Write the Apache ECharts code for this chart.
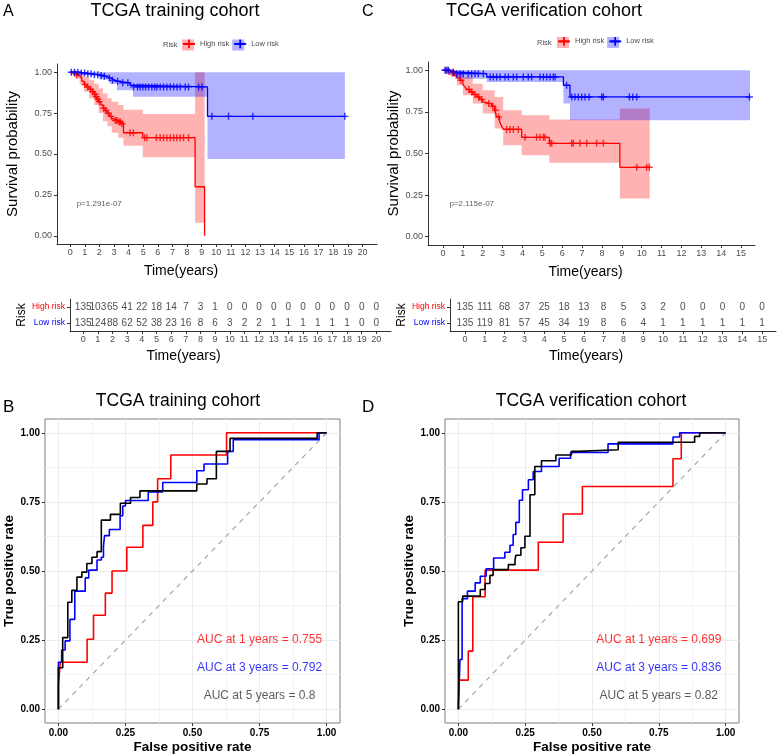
<!DOCTYPE html>
<html><head><meta charset="utf-8">
<script src="https://cdn.jsdelivr.net/npm/echarts@6/dist/echarts.min.js"></script>
<style>html,body{margin:0;padding:0;background:#fff}#c{width:778px;height:755px}</style>
</head><body><div id="c"></div>
<script>
// ===== Panel A: KM, TCGA training cohort =====
const kmA_high_t = [0,0.2,0.35,0.5,0.65,0.8,0.95,1.1,1.3,1.5,1.65,1.75,1.85,1.95,2.1,2.25,2.4,2.55,2.7,2.85,3.0,3.3,3.5,3.65,4.97,8.55,9.2];
const kmA_high_s = [1,0.993,0.985,0.975,0.963,0.945,0.925,0.91,0.895,0.88,0.865,0.85,0.835,0.82,0.80,0.78,0.765,0.75,0.73,0.715,0.705,0.695,0.685,0.63,0.60,0.30,0];
const kmA_high_censor = [0.3,0.45,1.0,1.2,1.4,1.55,1.7,1.8,1.9,2.0,2.3,2.45,2.6,2.8,3.1,3.2,3.35,3.45,3.55,4.1,4.33,5.1,5.25,5.9,6.16,6.39,6.62,6.85,7.08,7.3,7.53,7.76,8.1];
const kmA_low_t = [0,0.6,1.0,1.5,2.0,2.3,2.5,2.7,2.9,3.1,3.3,3.6,4.1,4.3,9.4,18.8];
const kmA_low_s = [1,0.995,0.99,0.985,0.98,0.975,0.965,0.958,0.95,0.945,0.94,0.935,0.92,0.91,0.73,0.73];
const kmA_low_censor = [0.08,0.3,0.53,0.76,0.99,1.21,1.43,1.66,1.89,2.12,2.34,2.68,2.9,3.25,3.6,3.95,4.34,4.61,4.79,4.98,5.16,5.37,5.59,5.78,5.94,6.16,6.39,6.62,6.85,7.08,7.31,7.53,7.88,8.1,8.79,9.02,9.7,10.84,12.5,18.8];
const bandA_high_t  = [0,0.35,0.65,0.95,1.3,1.65,1.95,2.25,2.55,2.85,3.3,3.65,4.97,8.55];
const bandA_high_lo = [0.99,0.96,0.93,0.88,0.84,0.80,0.75,0.70,0.67,0.63,0.60,0.55,0.48,0.08];
const bandA_high_hi = [1.0,1.0,0.995,0.97,0.95,0.93,0.90,0.87,0.84,0.82,0.80,0.77,0.745,1.0];
const bandA_high_end = 9.2;
const bandA_low_t  = [0,0.6,2.0,2.7,3.2,4.3,9.4];
const bandA_low_lo = [1.0,0.985,0.955,0.93,0.89,0.85,0.47];
const bandA_low_hi = [1,1,1,1,1,1,1];
const bandA_low_end = 18.8;
const riskA_times = [0,1,2,3,4,5,6,7,8,9,10,11,12,13,14,15,16,17,18,19,20];
const riskA_high = [135,103,65,41,22,18,14,7,3,1,0,0,0,0,0,0,0,0,0,0,0];
const riskA_low  = [135,124,88,62,52,38,23,16,8,6,3,2,2,1,1,1,1,1,1,0,0];
const pvalA = 'p=1.291e-07';

// ===== Panel C: KM, TCGA verification cohort =====
const kmC_high_t = [0,0.2,0.4,0.55,0.7,0.85,1.0,1.1,1.2,1.35,1.5,1.7,1.85,2.0,2.1,2.45,2.6,2.7,2.85,2.95,3.03,3.96,5.35,8.9,10.4];
const kmC_high_s = [1,0.993,0.985,0.97,0.955,0.94,0.915,0.9,0.885,0.87,0.855,0.84,0.825,0.81,0.80,0.785,0.76,0.72,0.69,0.665,0.645,0.597,0.561,0.417,0.417];
const kmC_high_censor = [0.15,0.3,0.5,0.9,1.3,1.45,1.6,1.8,1.95,2.3,2.5,2.65,2.8,3.2,3.37,3.54,3.79,4.13,4.71,4.88,5.05,5.13,5.39,5.47,6.48,6.56,6.89,7.23,7.73,8.07,9.75,10.25,10.38];
const kmC_low_t = [0,0.3,0.6,2.2,6.06,6.39,15.45];
const kmC_low_s = [1,0.99,0.98,0.96,0.91,0.84,0.84];
const kmC_low_censor = [0.1,0.2,0.27,0.52,0.69,0.86,1.02,1.27,1.44,1.61,1.78,2.03,2.37,2.53,2.7,2.87,3.12,3.29,3.54,3.71,4.04,4.29,4.46,4.88,5.05,5.22,5.39,5.55,5.64,6.22,6.48,6.64,6.81,6.98,7.15,7.35,7.99,8.07,9.38,9.55,9.75,15.42];
const bandC_high_t  = [0,0.4,0.7,1.0,1.5,2.0,2.6,3.03,3.96,5.35,8.9];
const bandC_high_lo = [1.0,0.96,0.91,0.85,0.80,0.74,0.65,0.55,0.49,0.445,0.23];
const bandC_high_hi = [1.0,1.0,0.99,0.96,0.92,0.88,0.84,0.76,0.73,0.705,0.77];
const bandC_high_end = 10.4;
const bandC_low_t  = [0,0.3,0.6,2.2,6.06,6.39];
const bandC_low_lo = [1.0,0.97,0.95,0.93,0.80,0.70];
const bandC_low_hi = [1,1,1,1,1,1];
const bandC_low_end = 15.45;
const riskC_times = [0,1,2,3,4,5,6,7,8,9,10,11,12,13,14,15];
const riskC_high = [135,111,68,37,25,18,13,8,5,3,2,0,0,0,0,0];
const riskC_low  = [135,119,81,57,45,34,19,8,6,4,1,1,1,1,1,1];
const pvalC = 'p=2.115e-07';

// ===== Panel B: ROC, training =====
const rocB_1y_fpr = [0,0,0.007,0.107,0.131,0.175,0.2,0.255,0.315,0.352,0.37,0.419,0.627,1];
const rocB_1y_tpr = [0,0.087,0.17,0.253,0.34,0.42,0.5,0.586,0.665,0.75,0.834,0.92,1,1];
const rocB_3y_fpr = [0,0,0.012,0.025,0.043,0.061,0.10,0.113,0.144,0.16,0.168,0.172,0.19,0.23,0.24,0.25,0.335,0.389,0.516,0.543,0.631,0.652,0.972,1];
const rocB_3y_tpr = [0,0.17,0.214,0.247,0.325,0.427,0.475,0.503,0.54,0.55,0.59,0.628,0.65,0.70,0.735,0.755,0.786,0.82,0.863,0.887,0.933,0.975,1,1];
const rocB_5y_fpr = [0,0,0.016,0.035,0.05,0.069,0.0875,0.106,0.125,0.144,0.16,0.194,0.231,0.269,0.304,0.516,0.554,0.589,0.64,0.965,1];
const rocB_5y_tpr = [0,0.15,0.259,0.387,0.43,0.478,0.496,0.527,0.55,0.57,0.684,0.705,0.745,0.766,0.79,0.815,0.834,0.933,0.98,1,1];
const aucB_text = ['AUC at 1 years = 0.755','AUC at 3 years = 0.792','AUC at 5 years = 0.8'];

// ===== Panel D: ROC, verification =====
const rocD_1y_fpr = [0,0.002,0.037,0.054,0.1,0.299,0.392,0.464,0.803,0.834,1];
const rocD_1y_tpr = [0,0.105,0.21,0.407,0.503,0.604,0.706,0.806,0.906,1,1];
const rocD_3y_fpr = [0,0.006,0.014,0.034,0.063,0.082,0.104,0.132,0.174,0.193,0.205,0.215,0.228,0.24,0.262,0.28,0.311,0.377,0.42,0.56,0.803,0.828,1];
const rocD_3y_tpr = [0,0.18,0.40,0.427,0.457,0.481,0.508,0.547,0.568,0.593,0.632,0.676,0.756,0.794,0.83,0.86,0.878,0.908,0.929,0.96,0.985,1,1];
const rocD_5y_fpr = [0,0,0.016,0.082,0.1,0.118,0.13,0.187,0.212,0.215,0.234,0.249,0.268,0.286,0.311,0.365,0.423,0.448,0.598,0.884,0.903,1];
const rocD_5y_tpr = [0,0.389,0.409,0.433,0.455,0.484,0.505,0.523,0.54,0.557,0.584,0.626,0.776,0.878,0.899,0.92,0.933,0.939,0.966,0.987,1,1];
const aucD_text = ['AUC at 1 years = 0.699','AUC at 3 years = 0.836','AUC at 5 years = 0.82'];

const auc_x = 0.75;
const auc_y = [0.25, 0.15, 0.05];
const auc_colors = ['#FF0000', '#0000FF', '#333333'];

const kmTicksA = [0,1,2,3,4,5,6,7,8,9,10,11,12,13,14,15,16,17,18,19,20];
const kmTicksC = [0,1,2,3,4,5,6,7,8,9,10,11,12,13,14,15];
const survTicks = [0,0.25,0.5,0.75,1];
const rocTicks = [0,0.25,0.5,0.75,1];
const rocGrid = [0,0.125,0.25,0.375,0.5,0.625,0.75,0.875,1];
const riskRows = ['Low risk','High risk'];

// ===== helpers =====
const RED = '#FF0000', BLUE = '#0000FF';
const PINK = 'rgba(255,0,0,0.3)', LBLUE = 'rgba(0,0,255,0.3)';
const PLUS = 'path://M4,0H6V4H10V6H6V10H4V6H0V4H4Z';
const FONT = 'Liberation Sans';

function pairs(a, b) { return a.map((v, i) => [v, b[i]]); }
function survAt(ts, ss, c) { let v = ss[0]; for (let i = 0; i < ts.length; i++) { if (ts[i] <= c) v = ss[i]; } return v; }

function kmLine(name, xi, color, ts, ss) {
  return { type: 'line', name: name, xAxisIndex: xi, yAxisIndex: xi, data: pairs(ts, ss), step: 'end',
    showSymbol: false, symbol: PLUS, symbolSize: 8, itemStyle: { color: color },
    lineStyle: { color: color, width: 1.3 }, z: 3, silent: true };
}
function censor(xi, color, ts, ss, cs) {
  return { type: 'scatter', name: 'censor', xAxisIndex: xi, yAxisIndex: xi,
    data: cs.map(c => [c, survAt(ts, ss, c)]), symbol: PLUS, symbolSize: 7,
    itemStyle: { color: color }, z: 4, silent: true };
}
function band(name, xi, color, ts, lo, hi, end) {
  return { type: 'custom', name: name, xAxisIndex: xi, yAxisIndex: xi, coordinateSystem: 'cartesian2d',
    itemStyle: { color: color }, silent: true, z: 1, data: [[ts[0], lo[0]]], encode: { x: 0, y: 1 },
    renderItem: function (params, api) {
      if (params.dataIndex !== 0) return null;
      const pts = [];
      const n = ts.length;
      for (let i = 0; i < n; i++) {
        const t1 = i + 1 < n ? ts[i + 1] : end;
        pts.push(api.coord([ts[i], hi[i]]), api.coord([t1, hi[i]]));
      }
      for (let i = n - 1; i >= 0; i--) {
        const t1 = i + 1 < n ? ts[i + 1] : end;
        pts.push(api.coord([t1, lo[i]]), api.coord([ts[i], lo[i]]));
      }
      return { type: 'polygon', shape: { points: pts }, style: { fill: color } };
    } };
}
function riskRow(xi, times, counts, row) {
  return { type: 'scatter', name: 'risk', xAxisIndex: xi, yAxisIndex: xi,
    data: times.map((t, i) => [t, row, counts[i]]), symbolSize: 1, itemStyle: { color: 'rgba(0,0,0,0)' },
    label: { show: true, position: 'inside', formatter: p => String(p.value[2]), fontSize: 10, color: '#222', fontFamily: FONT },
    silent: true, z: 5 };
}
function textPoint(xi, x, y, text, pos, size, color) {
  return { type: 'scatter', name: 'txt', xAxisIndex: xi, yAxisIndex: xi, data: [[x, y]], symbolSize: 1,
    itemStyle: { color: 'rgba(0,0,0,0)' },
    label: { show: true, position: pos, distance: 0, formatter: text, fontSize: size, color: color, fontFamily: FONT },
    silent: true, z: 6 };
}
function rocLine(xi, fpr, tpr, color) {
  return { type: 'line', name: 'roc', xAxisIndex: xi, yAxisIndex: xi, data: pairs(fpr, tpr), step: 'end',
    showSymbol: false, symbol: 'none', lineStyle: { color: color, width: 1.6 }, z: 3, silent: true };
}
function aucLabels(xi, texts) {
  return { type: 'scatter', name: 'auc', xAxisIndex: xi, yAxisIndex: xi, symbolSize: 1,
    itemStyle: { color: 'rgba(0,0,0,0)' },
    data: texts.map((t, i) => ({ name: t, value: [auc_x, auc_y[i]], label: { color: auc_colors[i] } })),
    label: { show: true, position: 'inside', formatter: '{b}', fontSize: 12, fontFamily: FONT },
    silent: true, z: 6 };
}

const kmAxisLine = { show: true, onZero: false, lineStyle: { color: '#333', width: 1 } };
const kmTick = (vals) => ({ show: true, customValues: vals, length: 3, lineStyle: { color: '#333' } });
function kmX(gi, min, max, ticks, nameGap, shift) {
  return { gridIndex: gi, type: 'value', min: min, max: max, axisLine: kmAxisLine, axisTick: kmTick(ticks),
    axisLabel: { customValues: ticks, fontSize: 9, color: '#4d4d4d', margin: 4, fontFamily: FONT },
    splitLine: { show: false }, name: 'Time(years)', nameLocation: 'middle', nameGap: nameGap,
    nameTextStyle: { fontSize: 14, color: '#000', fontFamily: FONT, padding: [0, shift, 0, 0] } };
}
function kmY(gi, gap) {
  return { gridIndex: gi, type: 'value', min: -0.05, max: 1.05, axisLine: kmAxisLine, axisTick: kmTick(survTicks),
    axisLabel: { customValues: survTicks, formatter: v => v.toFixed(2), fontSize: 9, color: '#4d4d4d', margin: 5, fontFamily: FONT },
    splitLine: { show: false }, name: 'Survival probability', nameLocation: 'middle', nameRotate: 90, nameGap: gap,
    nameTextStyle: { fontSize: 15, color: '#000', fontFamily: FONT } };
}
function riskY(gi) {
  return { gridIndex: gi, type: 'category', data: riskRows, axisLine: kmAxisLine,
    axisTick: { show: true, alignWithLabel: true, length: 3, lineStyle: { color: '#333' } },
    axisLabel: { fontSize: 8.5, margin: 5, fontFamily: FONT, color: v => (v === 'High risk' ? RED : BLUE) },
    splitLine: { show: false }, name: 'Risk', nameLocation: 'middle', nameRotate: 90, nameGap: 40,
    nameTextStyle: { fontSize: 12, color: '#000', fontFamily: FONT } };
}
function rocX(gi, nameGap) {
  return { gridIndex: gi, type: 'value', min: -0.05, max: 1.05, axisLine: { show: false, onZero: false },
    axisTick: { show: true, customValues: rocTicks, length: 3, lineStyle: { color: '#333' } },
    axisLabel: { customValues: rocTicks, formatter: v => v.toFixed(2), fontSize: 10, fontWeight: 'bold', color: '#000', margin: 5, fontFamily: FONT },
    splitLine: { show: false }, name: 'False positive rate', nameLocation: 'middle', nameGap: nameGap,
    nameTextStyle: { fontSize: 13.5, fontWeight: 'bold', color: '#000', fontFamily: FONT } };
}
function rocY(gi, nameGap) {
  return { gridIndex: gi, type: 'value', min: -0.05, max: 1.05, axisLine: { show: false, onZero: false },
    axisTick: { show: true, customValues: rocTicks, length: 3, lineStyle: { color: '#333' } },
    axisLabel: { customValues: rocTicks, formatter: v => v.toFixed(2), fontSize: 10, fontWeight: 'bold', color: '#000', margin: 5, fontFamily: FONT },
    splitLine: { show: false }, name: 'True positive rate', nameLocation: 'middle', nameRotate: 90, nameGap: nameGap,
    nameTextStyle: { fontSize: 13.5, fontWeight: 'bold', color: '#000', fontFamily: FONT } };
}
function gridAxis(gi) {
  return { gridIndex: gi, type: 'value', min: -0.05, max: 1.05, axisLine: { show: false, onZero: false },
    axisTick: { show: false, customValues: rocGrid }, axisLabel: { show: false },
    splitLine: { show: true, lineStyle: { color: ['#ebebeb', '#f4f4f4'], width: 1 } } };
}

function titleText(text, left, top, size, align) {
  const t = { text: text, left: left, top: top, padding: 0,
    textStyle: { fontSize: size, fontWeight: 'normal', color: '#000', fontFamily: FONT } };
  if (align) t.textAlign = align;
  return t;
}
function legendPair(left, top) {
  const common = { left: left, top: top, orient: 'horizontal', itemWidth: 12, itemHeight: 11, itemGap: 4,
    padding: 0, selectedMode: false };
  return [
    Object.assign({}, common, { data: [{ name: 'High risk band', icon: 'rect' }, { name: 'Low risk band', icon: 'rect' }],
      formatter: n => n.replace(' band', ''), textStyle: { fontSize: 7.5, color: 'rgba(0,0,0,0)', fontFamily: FONT }, z: 4 }),
    Object.assign({}, common, { data: ['High risk', 'Low risk'],
      textStyle: { fontSize: 7.5, color: '#4d4d4d', fontFamily: FONT }, z: 5 })
  ];
}

const option = {
  animation: false,
  backgroundColor: '#fff',
  textStyle: { fontFamily: FONT },
  title: [
    titleText('A', 3, 4, 16), titleText('C', 362, 4, 16),
    titleText('B', 3, 399, 17), titleText('D', 362, 399, 17),
    titleText('TCGA training cohort', 175, 2, 18, 'center'),
    titleText('TCGA verification cohort', 544, 2, 18, 'center'),
    titleText('TCGA training cohort', 178, 392, 17.5, 'center'),
    titleText('TCGA verification cohort', 591, 392, 17.5, 'center'),
    { text: 'Risk', left: 163, top: 41, padding: 0, textStyle: { fontSize: 7.5, fontWeight: 'normal', color: '#4d4d4d', fontFamily: FONT } },
    { text: 'Risk', left: 537, top: 38.5, padding: 0, textStyle: { fontSize: 7.5, fontWeight: 'normal', color: '#4d4d4d', fontFamily: FONT } }
  ],
  legend: legendPair(182, 39.5).concat(legendPair(557, 37)),
  grid: [
    { left: 57, top: 64, width: 320, height: 180, outerBoundsMode: 'none' },
    { left: 70, top: 299, width: 321, height: 32, outerBoundsMode: 'none' },
    { left: 428, top: 62, width: 327, height: 183, outerBoundsMode: 'none' },
    { left: 450, top: 299, width: 326, height: 32, outerBoundsMode: 'none' },
    { left: 45, top: 419, width: 295, height: 304, show: true, backgroundColor: '#fff', borderColor: '#7f7f7f', borderWidth: 1, outerBoundsMode: 'none' },
    { left: 445, top: 419, width: 294, height: 304, show: true, backgroundColor: '#fff', borderColor: '#7f7f7f', borderWidth: 1, outerBoundsMode: 'none' }
  ],
  xAxis: [
    kmX(0, -0.9, 21, kmTicksA, 20, 72),
    kmX(1, -0.9, 21, kmTicksA, 18, 94),
    kmX(2, -0.755, 15.7, kmTicksC, 20, 12),
    kmX(3, -0.755, 15.7, kmTicksC, 18, 54),
    rocX(4, 17), rocX(5, 17),
    gridAxis(4), gridAxis(5)
  ],
  yAxis: [
    kmY(0, 37), riskY(1), kmY(2, 25), riskY(3),
    rocY(4, 26), rocY(5, 24),
    gridAxis(4), gridAxis(5)
  ],
  series: [
    // Panel A
    band('High risk band', 0, PINK, bandA_high_t, bandA_high_lo, bandA_high_hi, bandA_high_end),
    band('Low risk band', 0, LBLUE, bandA_low_t, bandA_low_lo, bandA_low_hi, bandA_low_end),
    kmLine('High risk', 0, RED, kmA_high_t, kmA_high_s),
    kmLine('Low risk', 0, BLUE, kmA_low_t, kmA_low_s),
    censor(0, RED, kmA_high_t, kmA_high_s, kmA_high_censor),
    censor(0, BLUE, kmA_low_t, kmA_low_s, kmA_low_censor),
    textPoint(0, 0.41, 0.195, pvalA, 'right', 8, '#333'),
    riskRow(1, riskA_times, riskA_high, 'High risk'),
    riskRow(1, riskA_times, riskA_low, 'Low risk'),
    // Panel C
    band('High risk band', 2, PINK, bandC_high_t, bandC_high_lo, bandC_high_hi, bandC_high_end),
    band('Low risk band', 2, LBLUE, bandC_low_t, bandC_low_lo, bandC_low_hi, bandC_low_end),
    kmLine('High risk', 2, RED, kmC_high_t, kmC_high_s),
    kmLine('Low risk', 2, BLUE, kmC_low_t, kmC_low_s),
    censor(2, RED, kmC_high_t, kmC_high_s, kmC_high_censor),
    censor(2, BLUE, kmC_low_t, kmC_low_s, kmC_low_censor),
    textPoint(2, 0.3, 0.198, pvalC, 'right', 8, '#333'),
    riskRow(3, riskC_times, riskC_high, 'High risk'),
    riskRow(3, riskC_times, riskC_low, 'Low risk'),
    // Panel B
    { type: 'line', name: 'diag', xAxisIndex: 4, yAxisIndex: 4, data: [[0, 0], [1, 1]], showSymbol: false, symbol: 'none',
      lineStyle: { color: '#a6a6a6', width: 1.2, type: [5, 5] }, z: 2, silent: true },
    rocLine(4, rocB_1y_fpr, rocB_1y_tpr, RED),
    rocLine(4, rocB_3y_fpr, rocB_3y_tpr, BLUE),
    rocLine(4, rocB_5y_fpr, rocB_5y_tpr, '#000'),
    aucLabels(4, aucB_text),
    // Panel D
    { type: 'line', name: 'diag', xAxisIndex: 5, yAxisIndex: 5, data: [[0, 0], [1, 1]], showSymbol: false, symbol: 'none',
      lineStyle: { color: '#a6a6a6', width: 1.2, type: [5, 5] }, z: 2, silent: true },
    rocLine(5, rocD_1y_fpr, rocD_1y_tpr, RED),
    rocLine(5, rocD_3y_fpr, rocD_3y_tpr, BLUE),
    rocLine(5, rocD_5y_fpr, rocD_5y_tpr, '#000'),
    aucLabels(5, aucD_text)
  ]
};

const chart = echarts.init(document.getElementById('c'), null, { renderer: 'canvas' });
chart.setOption(option);
</script>
</body></html>
